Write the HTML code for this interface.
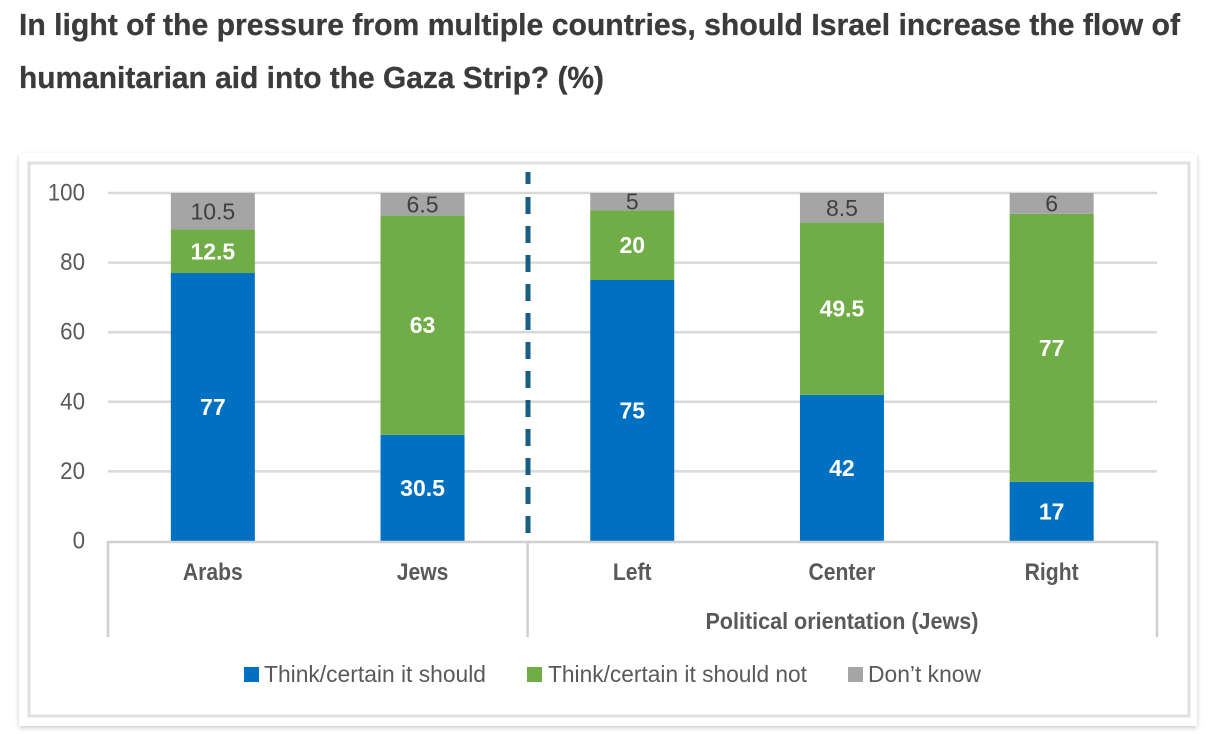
<!DOCTYPE html>
<html lang="en">
<head>
<meta charset="utf-8">
<title>Humanitarian aid survey chart</title>
<style>
html,body{margin:0;padding:0;background:#fff;width:1218px;height:734px;overflow:hidden}
svg{display:block}
text{font-family:"Liberation Sans",sans-serif}
</style>
</head>
<body>
<svg id="chart" width="1218" height="734" viewBox="0 0 1218 734" xmlns="http://www.w3.org/2000/svg">
  <defs>
    <filter id="soft" x="-3%" y="-3%" width="106%" height="106%"><feGaussianBlur stdDeviation="2.5"/></filter>
  </defs>
  <text x="19" y="35" font-size="31" font-weight="700" fill="#3b3b3b" stroke="#3b3b3b" stroke-width="0.3" textLength="1161" lengthAdjust="spacingAndGlyphs">In light of the pressure from multiple countries, should Israel increase the flow of</text>
  <text x="19" y="88" font-size="31" font-weight="700" fill="#3b3b3b" stroke="#3b3b3b" stroke-width="0.3" textLength="585" lengthAdjust="spacingAndGlyphs">humanitarian aid into the Gaza Strip? (%)</text>
  <rect x="19" y="155" width="1178" height="573" fill="#000" opacity="0.2" filter="url(#soft)"/>
  <rect x="19" y="153" width="1178" height="573" fill="#fff"/>
  <rect x="29" y="163" width="1160" height="553" fill="#fff" stroke="#e0e0e0" stroke-width="3"/>
  <g id="grid"></g>
  <g id="bars"></g>
  <line x1="528" y1="172" x2="528" y2="536" stroke="#156082" stroke-width="5" stroke-dasharray="12 13 17 12 17 12 17 12 17 12 17 12 17 12 17 12 17 12 17 12 17 12 17 12 17 12"/>
  <g id="axis"></g>
  <g font-size="23" fill="#595959">
    <rect x="244" y="667" width="15" height="15" fill="#0070C0"/>
    <text x="264" y="682" fill="#595959" textLength="222" lengthAdjust="spacingAndGlyphs">Think/certain it should</text>
    <rect x="527" y="667" width="15" height="15" fill="#70AD47"/>
    <text x="548" y="682" fill="#595959" textLength="259" lengthAdjust="spacingAndGlyphs">Think/certain it should not</text>
    <rect x="848" y="667" width="15" height="15" fill="#A5A5A5"/>
    <text x="868" y="682" fill="#595959" textLength="113" lengthAdjust="spacingAndGlyphs">Don’t know</text>
  </g>
</svg>
<script>
var categories = ['Arabs', 'Jews', 'Left', 'Center', 'Right'];
var shouldValues = [77, 30.5, 75, 42, 17];
var shouldNotValues = [12.5, 63, 20, 49.5, 77];
var dontKnowValues = [10.5, 6.5, 5, 8.5, 6];
var yTicks = [0, 20, 40, 60, 80, 100];
var groupLabel = 'Political orientation (Jews)';

var NS = 'http://www.w3.org/2000/svg';
var plotLeft = 108, plotRight = 1156.5, axisRight = 1157, plotTop = 193, plotBottom = 541, barWidth = 84;
function yScale(v) { return plotBottom - (v / 100) * (plotBottom - plotTop); }
function xCenter(i) { return plotLeft + (plotRight - plotLeft) * (i + 0.5) / categories.length; }
function make(tag, attrs, parent) {
  var el = document.createElementNS(NS, tag);
  for (var k in attrs) el.setAttribute(k, attrs[k]);
  parent.appendChild(el);
  return el;
}
function squeeze(el, factor) {
  el.setAttribute('textLength', el.getComputedTextLength() * factor);
  el.setAttribute('lengthAdjust', 'spacingAndGlyphs');
}

var grid = document.getElementById('grid');
yTicks.forEach(function (t) {
  if (t > 0) {
    var gl = make('line', {x1: plotLeft, x2: axisRight, y1: yScale(t), y2: yScale(t), stroke: '#d9d9d9', 'stroke-width': 2.5}, grid);
    
    
  }
  var tl = make('text', {x: 85, y: yScale(t) + 7.5, 'text-anchor': 'end', 'font-size': 24, fill: '#595959'}, grid);
  tl.textContent = t;
  
  
  squeeze(tl, 0.93);
});

var bars = document.getElementById('bars');
var seriesList = [
  {key: 'should', values: shouldValues, color: '#0070C0', text: '#ffffff', weight: 700, size: 23},
  {key: 'should-not', values: shouldNotValues, color: '#70AD47', text: '#ffffff', weight: 700, size: 23},
  {key: 'dont-know', values: dontKnowValues, color: '#A5A5A5', text: '#404040', weight: 400, size: 23}
];
categories.forEach(function (cat, i) {
  var running = 0;
  seriesList.forEach(function (s) {
    var v = s.values[i];
    var yTop = yScale(running + v), yBase = yScale(running);
    var r = make('rect', {x: xCenter(i) - barWidth / 2, y: yTop, width: barWidth, height: yBase - yTop, fill: s.color}, bars);
    
    
    var t = make('text', {x: xCenter(i), y: (yTop + yBase) / 2 + 8, 'text-anchor': 'middle', 'font-size': s.size, 'font-weight': s.weight, fill: s.text}, bars);
    t.textContent = v;
    
    
    running += v;
  });
});

var axis = document.getElementById('axis');
var baseLine = make('line', {x1: plotLeft, x2: axisRight, y1: plotBottom + 1, y2: plotBottom + 1, stroke: '#d0d0d0', 'stroke-width': 2.5}, axis);


[0, 2, 5].forEach(function (n) {
  var x = plotLeft + (axisRight - plotLeft) * n / categories.length;
  var tick = make('line', {x1: x, x2: x, y1: plotBottom, y2: 637, stroke: '#d0d0d0', 'stroke-width': 2.5}, axis);
  
  
});
categories.forEach(function (cat, i) {
  var t = make('text', {x: xCenter(i), y: 580, 'text-anchor': 'middle', 'font-size': 24, 'font-weight': 700, fill: '#595959'}, axis);
  t.textContent = cat;
  
  
  squeeze(t, 0.88);
});
var g = make('text', {x: xCenter(3), y: 629, 'text-anchor': 'middle', 'font-size': 23, 'font-weight': 700, fill: '#595959'}, axis);
g.textContent = groupLabel;


g.setAttribute('textLength', 273);
g.setAttribute('lengthAdjust', 'spacingAndGlyphs');
</script>
</body>
</html>
